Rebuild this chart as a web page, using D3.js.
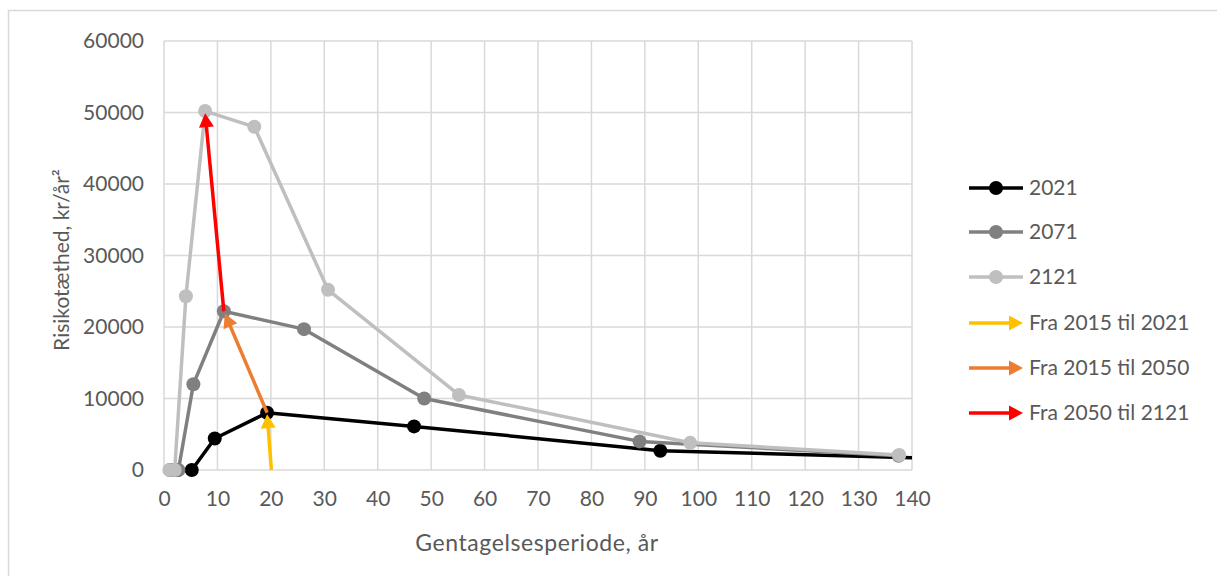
<!DOCTYPE html>
<html>
<head>
<meta charset="utf-8">
<script src="https://cdn.jsdelivr.net/npm/d3@7"></script>
<style>
  body { margin: 0; background: #fff; }
  svg { font-family: "Lato", "Liberation Sans", sans-serif; }
  .tick text { fill: #595959; font-size: 21px; }
</style>
</head>
<body>
<svg width="1217" height="576"></svg>
<script>
// series: [gentagelsesperiode (år), risikotæthed (kr/år²)]
var s2021 = [[1.2, 0], [2.5, 0], [5.2, 0], [9.5, 4400], [19.3, 8000], [46.8, 6100], [92.9, 2700], [150, 1500]];
var s2071 = [[1.5, 0], [2.7, 0], [5.5, 12000], [11.2, 22200], [26.2, 19700], [48.7, 10000], [89, 4000], [137.5, 2000]];
var s2121 = [[1, 0], [2, 0], [4.1, 24300], [7.7, 50200], [16.9, 48000], [30.7, 25200], [55.2, 10500], [98.5, 3800], [137.6, 2100]];

var seriesNames = ["2021", "2071", "2121"];
var seriesColors = ["#000000", "#808080", "#bfbfbf"];

// arrows: [from, to]
var arrowNames = ["Fra 2015 til 2021", "Fra 2015 til 2050", "Fra 2050 til 2121"];
var arrowColors = ["#ffc000", "#ed7d31", "#ff0000"];
var arrowData = [
  [[20.1, 0], [19.3, 7800]],
  [[19.3, 8000], [11.4, 21900]],
  [[11.2, 22200], [7.7, 49900]]
];

var xTicks = d3.range(0, 141, 10);
var yTicks = d3.range(0, 60001, 10000);

var svg = d3.select("svg");

// chart frame
svg.append("rect")
  .attr("x", 8.5).attr("y", 10.5)
  .attr("width", 1240).attr("height", 600)
  .attr("fill", "none").attr("stroke", "#d9d9d9").attr("stroke-width", 1.5);

var x = d3.scaleLinear().domain([0, 140]).range([164, 912]),
    y = d3.scaleLinear().domain([0, 60000]).range([470, 41]);

// gridlines
var grid = svg.append("g");
grid.selectAll(".vg").data(xTicks).enter().append("line")
  .attr("x1", function(d) { return x(d); }).attr("x2", function(d) { return x(d); })
  .attr("y1", y(0)).attr("y2", y(60000))
  .attr("stroke", "#d9d9d9").attr("stroke-width", 1.5);
grid.selectAll(".hg").data(yTicks).enter().append("line")
  .attr("x1", x(0)).attr("x2", x(140))
  .attr("y1", function(d) { return y(d); }).attr("y2", function(d) { return y(d); })
  .attr("stroke", "#d9d9d9").attr("stroke-width", 1.5);

// axes (labels only)
var gx = svg.append("g")
  .attr("transform", "translate(0," + y(0) + ")")
  .call(d3.axisBottom(x).tickValues(xTicks).tickSize(0).tickPadding(21));
gx.select(".domain").remove();
gx.selectAll("text").style("font-family", "Lato");

var gy = svg.append("g")
  .attr("transform", "translate(" + x(0) + ",0)")
  .call(d3.axisLeft(y).tickValues(yTicks).tickSize(0).tickPadding(20).tickFormat(d3.format("d")));
gy.select(".domain").remove();
gy.selectAll("text").style("font-family", "Lato");

// axis titles
svg.append("text")
  .attr("x", 537).attr("y", 551)
  .attr("text-anchor", "middle")
  .attr("fill", "#595959").style("font-size", "23px").style("letter-spacing", "0.6px")
  .text("Gentagelsesperiode, år");

svg.append("text")
  .attr("transform", "translate(69,260) rotate(-90)")
  .attr("text-anchor", "middle")
  .attr("fill", "#595959").style("font-size", "21px")
  .text("Risikotæthed, kr/år²");

// clip to plot area
svg.append("clipPath").attr("id", "plotclip")
  .append("rect").attr("x", x(0) - 10).attr("y", y(60000) - 10)
  .attr("width", x(140) - x(0) + 10).attr("height", y(0) - y(60000) + 20);

var plot = svg.append("g").attr("clip-path", "url(#plotclip)");

var line = d3.line()
  .x(function(d) { return x(d[0]); })
  .y(function(d) { return y(d[1]); });

[s2021, s2071, s2121].forEach(function(s, i) {
  var g = plot.append("g");
  g.append("path")
    .attr("d", line(s))
    .attr("fill", "none")
    .attr("stroke", seriesColors[i])
    .attr("stroke-width", 3.5)
    .attr("stroke-linejoin", "round");
  g.selectAll("circle").data(s.filter(function(d) { return d[0] <= 140; }))
    .enter().append("circle")
    .attr("cx", function(d) { return x(d[0]); })
    .attr("cy", function(d) { return y(d[1]); })
    .attr("r", 7)
    .attr("fill", seriesColors[i]);
});

// draw an arrow between two pixel points
function drawArrow(g, x1, y1, x2, y2, color) {
  var dx = x2 - x1, dy = y2 - y1;
  var len = Math.sqrt(dx * dx + dy * dy);
  var ux = dx / len, uy = dy / len;
  var hl = 14, hw = 7.5;
  var bx = x2 - ux * hl, by = y2 - uy * hl;
  g.append("line")
    .attr("x1", x1).attr("y1", y1).attr("x2", bx + ux * 2).attr("y2", by + uy * 2)
    .attr("stroke", color).attr("stroke-width", 3.5);
  g.append("path")
    .attr("d", "M" + x2 + "," + y2 +
      "L" + (bx - uy * hw) + "," + (by + ux * hw) +
      "L" + (bx + uy * hw) + "," + (by - ux * hw) + "Z")
    .attr("fill", color);
}

arrowData.forEach(function(a, i) {
  drawArrow(plot, x(a[0][0]), y(a[0][1]), x(a[1][0]), y(a[1][1]), arrowColors[i]);
});

// legend
var legend = svg.append("g");
var legendY = [188, 232, 277, 323, 368, 413];

seriesNames.forEach(function(n, i) {
  var ly = legendY[i];
  legend.append("line")
    .attr("x1", 969).attr("x2", 1023).attr("y1", ly).attr("y2", ly)
    .attr("stroke", seriesColors[i]).attr("stroke-width", 3.5);
  legend.append("circle")
    .attr("cx", 996).attr("cy", ly).attr("r", 7).attr("fill", seriesColors[i]);
  legend.append("text")
    .attr("x", 1029).attr("y", ly).attr("dy", "0.35em")
    .attr("fill", "#595959").style("font-size", "21px")
    .text(n);
});

arrowNames.forEach(function(n, i) {
  var ly = legendY[i + 3];
  drawArrow(legend, 969, ly, 1023, ly, arrowColors[i]);
  legend.append("text")
    .attr("x", 1029).attr("y", ly).attr("dy", "0.35em")
    .attr("fill", "#595959").style("font-size", "21px")
    .text(n);
});
</script>
</body>
</html>
